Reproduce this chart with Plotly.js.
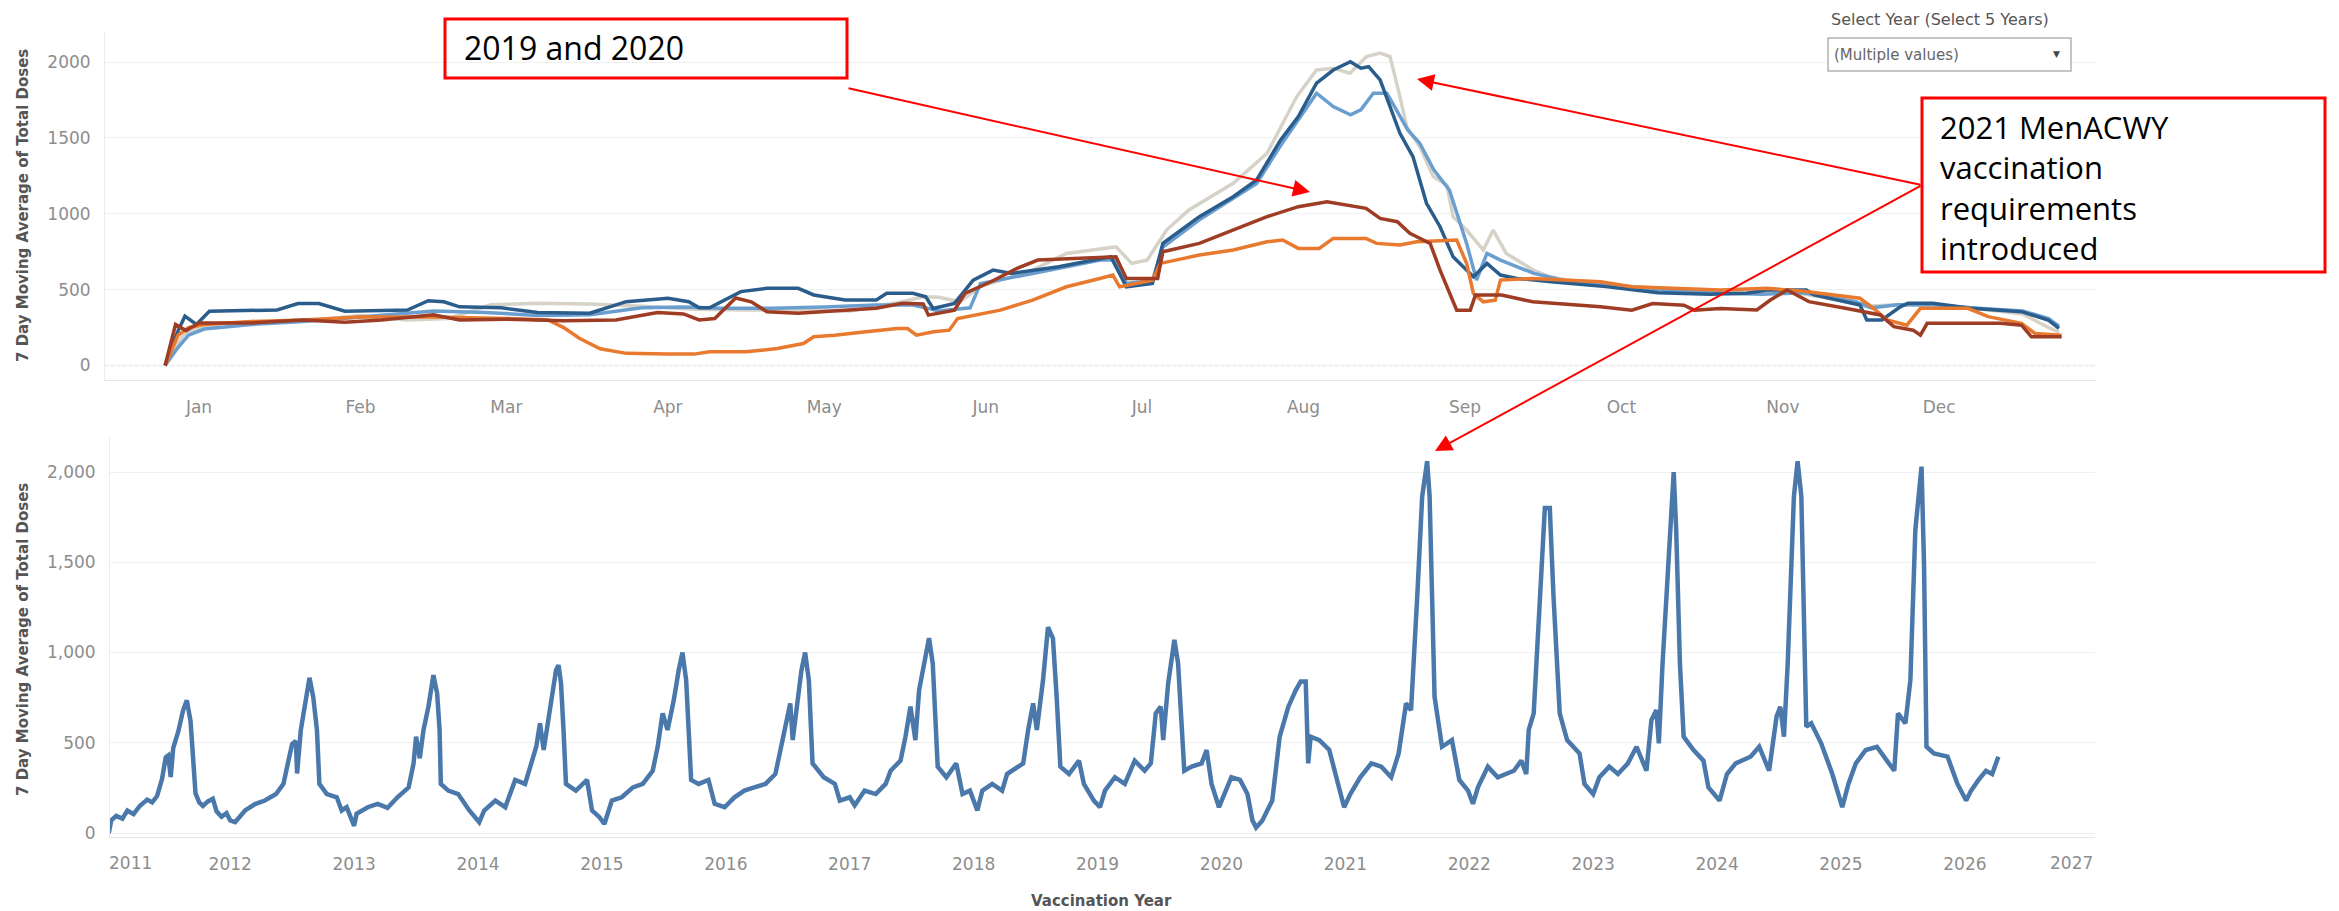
<!DOCTYPE html>
<html>
<head>
<meta charset="utf-8">
<script src="https://cdn.plot.ly/plotly-3.0.1.min.js"></script>
<style>
html,body{margin:0;padding:0;background:#ffffff;}
#chart{width:2339px;height:911px;}
</style>
</head>
<body>
<div id="chart"></div>
<script>
// ---------- DATA ----------
// Top chart: day of year (0 = Jan 1) and 7-day moving average of doses
const monthStarts = [0,31,59,90,120,151,181,212,243,273,304,334];
const monthNames  = ['Jan','Feb','Mar','Apr','May','Jun','Jul','Aug','Sep','Oct','Nov','Dec'];

const day2019 = [-6.5,-4.5,-2.5,0,10,20,28,35,45,50,59,70,80,88,93,96,99,103,106,109,115,124,130,135,139,140,145,147,152,157,161,176,178,184,185,192,198.5,205,211,216.5,224,226.7,230,232.4,236.3,238.2,241.4,244,245,250,256,269,275,279,285,287,292,299,301.6,304.8,306,309,316,322.7,325.3,329,330.4,331.7,345.8,349.8,351.7,357.5];
const val2019 = [0,270,230,280,280,300,285,300,335,300,305,295,300,350,340,300,310,445,420,355,345,366,377,410,405,332,365,475,552,640,695,717,574,574,750,805,893,981,1047,1080,1036,970,948,871,805,629,365,365,464,464,420,387,365,409,398,365,376,366,432,498,476,421,377,333,256,233,200,278,278,266,189,189];

const day2020 = [-6.5,-4,-2,1,10,20,31,45,59,67,70,73,77,82,90,95,98,105,111,116,118,122,128,134,136,137.7,141,144,145.6,153.8,160,166.5,172.9,175.4,176.7,183,184.5,192,198.5,205,208,211,215,217.7,224,226,230.5,233.7,241.4,243.3,244.6,246.5,248.8,249.8,256,269,275,282,292,301,308,318.8,321.4,324,327.8,330.4,339.5,343.4,349.8,352.4,357.5];
const val2020 = [0,200,250,270,290,300,320,320,310,300,250,180,110,80,75,75,90,90,112,145,190,200,222,244,244,200,222,233,310,365,431,519,574,596,519,563,673,728,761,816,827,772,772,838,838,805,794,816,827,673,475,420,431,563,574,552,519,508,497,509,490,443,377,300,266,377,377,322,278,211,200];

const day2021 = [-6.5,-3,0,5,15,25,31,40,48,56,65,75,85,95,105,115,125,135,139,142,146,150,160,166.5,176,179,182,185.7,190,198.5,205,210.7,214.5,217.7,220.9,224.1,226.7,228.6,230.5,231.8,234.3,236.9,239.5,240.7,243.3,246.5,248.4,250.9,256.1,259.3,266,275,285,295,305,315,320,326,333,340,350,355,357];
const val2021 = [0,200,250,280,290,310,330,300,310,400,410,405,390,370,366,366,360,420,453,450,420,520,629,739,783,673,695,893,1025,1201,1399,1773,1948,1960,1927,2037,2059,2037,1773,1575,1443,1246,1190,981,893,761,893,739,629,585,541,520,500,480,490,430,390,400,395,380,340,250,220];

const day2022 = [-6.5,-4,-2,1,10,20,31,45,55,65,75,85,93,100,110,120,130,137,139.5,142,148,150,160,173,176,178,183,185,192,198.5,203,207.6,211,214.5,217.7,221,223,225.4,228,229.9,232,234.3,237,240,243.3,245.2,247.2,249.8,256.2,262,270,280,290,300,308,318,321,326,333,340,350,355,357];
const val2022 = [0,120,200,240,270,290,320,360,350,330,335,380,385,377,377,385,399,399,380,360,380,541,607,695,695,541,560,780,960,1100,1200,1450,1620,1795,1707,1652,1685,1795,1795,1685,1553,1465,1290,1157,805,563,739,695,607,560,530,500,480,470,480,420,380,400,400,380,360,310,260];

const day2023 = [-6.5,-4,-2.7,-0.5,2,15,19,23,28,35,40,44,47,50,58,65,75,82,90,94,96,98,104,109,115,118,124,130,132,137,139.5,140.9,145,148.6,152.4,156,165,175,178,183,185,192,198.5,203,207.6,211,214.5,217.7,221,223,224.5,226.7,228.6,230.5,233,235.6,238.2,240.7,244.6,247.2,249.8,253,260,270,280,290,297,301,308.5,310,318.8,320.1,323,326.6,328,332.8,340,349.8,354.9,357];
const val2023 = [0,230,325,270,358,366,409,409,358,360,366,427,420,387,380,350,345,421,443,420,380,380,487,509,509,465,432,432,476,476,453,376,409,563,629,607,651,717,519,541,805,981,1113,1223,1487,1641,1861,1948,2003,1960,1970,1883,1707,1531,1377,1069,915,717,585,673,596,574,550,520,480,470,476,498,498,465,399,300,300,388,410,410,377,355,300,244];

const topYears  = ['2021','2022','2023','2020','2019'];
const topColors = ['#d6d2c8','#6a9ecf','#2b5d8c','#e8792e','#9e3d24'];

// Bottom chart: decimal year and 7-day moving average of doses
const bottomT = [
 2011.02,2011.04,2011.08,2011.13,2011.17,2011.22,2011.27,2011.33,2011.37,2011.41,2011.45,2011.48,2011.50,2011.52,2011.54,2011.58,2011.62,2011.65,2011.68,2011.70,2011.72,2011.75,2011.78,2011.82,2011.86,2011.89,2011.93,2011.97,
 2012.00,2012.04,2012.12,2012.20,2012.28,2012.37,2012.43,2012.47,2012.50,2012.53,2012.54,2012.57,2012.61,2012.64,2012.67,2012.70,2012.72,2012.78,2012.86,2012.90,2012.94,
 2013.00,2013.02,2013.11,2013.19,2013.27,2013.35,2013.44,2013.48,2013.50,2013.53,2013.56,2013.60,2013.64,2013.67,2013.69,2013.70,2013.76,2013.84,2013.93,
 2014.01,2014.05,2014.14,2014.22,2014.30,2014.38,2014.47,2014.50,2014.53,2014.57,2014.63,2014.65,2014.67,2014.69,2014.71,2014.79,2014.88,2014.92,2014.98,
 2015.02,2015.08,2015.16,2015.25,2015.33,2015.41,2015.45,2015.49,2015.53,2015.58,2015.62,2015.65,2015.68,2015.70,2015.72,2015.78,2015.86,2015.91,2015.99,
 2016.07,2016.15,2016.23,2016.32,2016.40,2016.48,2016.52,2016.54,2016.58,2016.61,2016.64,2016.67,2016.70,2016.79,2016.88,2016.92,
 2017.00,2017.04,2017.12,2017.21,2017.29,2017.33,2017.41,2017.45,2017.49,2017.53,2017.56,2017.60,2017.64,2017.67,2017.69,2017.71,2017.78,2017.86,2017.91,2017.97,
 2018.03,2018.07,2018.15,2018.23,2018.27,2018.40,2018.44,2018.48,2018.51,2018.56,2018.60,2018.64,2018.67,2018.70,2018.77,2018.85,2018.89,2018.97,
 2019.02,2019.06,2019.14,2019.22,2019.30,2019.38,2019.43,2019.47,2019.51,2019.53,2019.57,2019.62,2019.65,2019.68,2019.70,2019.76,2019.84,2019.88,2019.92,2019.98,
 2020.04,2020.08,2020.15,2020.21,2020.25,2020.28,2020.33,2020.41,2020.47,2020.54,2020.60,2020.64,2020.68,2020.70,2020.72,2020.79,2020.87,2020.93,2020.99,
 2021.04,2021.12,2021.21,2021.29,2021.37,2021.43,2021.49,2021.53,2021.58,2021.62,2021.66,2021.68,2021.70,2021.72,2021.78,2021.86,2021.92,2021.99,
 2022.03,2022.07,2022.15,2022.23,2022.36,2022.42,2022.46,2022.48,2022.52,2022.56,2022.61,2022.65,2022.68,2022.73,2022.79,2022.89,2022.93,2023.00,
 2023.05,2023.13,2023.20,2023.28,2023.35,2023.43,2023.47,2023.51,2023.53,2023.56,2023.62,2023.65,2023.67,2023.70,2023.73,2023.81,2023.89,2023.93,
 2024.02,2024.08,2024.15,2024.27,2024.34,2024.42,2024.48,2024.51,2024.54,2024.57,2024.62,2024.65,2024.68,2024.70,2024.72,2024.76,2024.84,2024.93,
 2025.01,2025.06,2025.12,2025.20,2025.29,2025.37,2025.43,2025.46,2025.52,2025.56,2025.60,2025.65,2025.67,2025.69,2025.75,2025.86,2025.94,
 2026.01,2026.05,2026.11,2026.17,2026.22,2026.27
];
const bottomV = [
 0,70,95,80,125,105,150,185,170,205,300,420,430,310,470,560,680,735,620,430,220,170,150,175,190,120,90,110,
 70,60,125,160,180,216,272,401,493,510,330,571,718,860,755,571,272,216,198,125,143,
 40,107,143,162,140,198,253,386,534,414,571,700,875,774,571,272,235,216,125,
 60,125,180,143,294,272,478,608,460,645,903,930,829,571,272,235,294,125,88,
 50,180,198,253,272,345,478,663,571,737,903,1000,847,608,294,272,294,162,143,
 198,235,253,272,327,608,718,515,760,900,1000,847,386,309,272,180,
 198,153,235,216,272,345,401,534,700,515,792,940,1080,940,663,368,309,386,216,235,
 125,235,272,235,327,386,571,718,571,847,1140,1079,755,368,327,401,272,180,
 143,235,309,272,401,345,386,663,700,515,829,1070,940,571,345,368,386,460,272,143,
 235,309,294,216,70,30,70,180,534,700,792,840,840,386,534,515,460,309,143,
 216,309,386,368,309,441,718,681,1309,1864,2060,1864,1309,755,478,515,294,235,
 162,253,368,309,345,401,327,571,663,1124,1800,1800,1309,663,515,441,272,216,
 309,368,327,386,478,345,626,681,497,940,1679,2000,1679,940,534,460,401,253,
 180,327,386,423,478,345,645,700,534,940,1864,2060,1864,1124,589,608,497,327,
 143,272,386,460,478,401,345,663,608,847,1679,2030,1494,478,441,423,272,
 180,235,294,345,327,423
];
const yearTicks  = [2012,2013,2014,2015,2016,2017,2018,2019,2020,2021,2022,2023,2024,2025,2026];
const yearLabels = yearTicks.map(String);
const edgeYearLabels = ['2011','2027'];
const yTicks = [0,500,1000,1500,2000];

// ---------- LAYOUT HELPERS ----------
const W = 2339, H = 911;
const px = x => x / W;
const py = y => 1 - y / H;
const tickFont = {family:'DejaVu Sans', size:17, color:'#8d8d8d'};
const titleFont = {family:'DejaVu Sans', size:15, color:'#555555', weight:'bold'};

const topSeries = {
  '2019':[day2019,val2019], '2020':[day2020,val2020], '2021':[day2021,val2021],
  '2022':[day2022,val2022], '2023':[day2023,val2023]
};

const traces = topYears.map((yr,i) => ({
  type:'scatter', mode:'lines', name:yr,
  x: topSeries[yr][0], y: topSeries[yr][1],
  xaxis:'x', yaxis:'y',
  line:{color: topColors[i], width:3.5},
  hoverinfo:'skip'
}));
traces.push({
  type:'scatter', mode:'lines', name:'All years',
  x: bottomT, y: bottomV, xaxis:'x2', yaxis:'y2',
  line:{color:'#4b78aa', width:4.5}, hoverinfo:'skip'
});

const layout = {
  width:W, height:H, margin:{l:0,r:0,t:0,b:0},
  paper_bgcolor:'#ffffff', plot_bgcolor:'#ffffff', showlegend:false,
  xaxis:{domain:[px(105),px(2096)], range:[-18.04,364.1], anchor:'y',
    tickvals:monthStarts, ticktext:monthNames, showgrid:false, zeroline:false,
    showline:true, linecolor:'#e6e6e6', linewidth:1, ticks:'', tickfont:tickFont,
    ticklabelstandoff:12, fixedrange:true},
  yaxis:{domain:[py(380),py(33)], range:[-95.6,2192], anchor:'x',
    tickvals:yTicks, ticktext:yTicks.map(String), showgrid:true, gridcolor:'#f0f0f0',
    gridwidth:1, zeroline:false, showline:true, linecolor:'#ececec', ticks:'',
    tickfont:tickFont, ticklabelstandoff:10, fixedrange:true},
  xaxis2:{domain:[px(110),px(2095)], range:[2011.03,2027.05], anchor:'y2',
    tickvals:yearTicks, ticktext:yearLabels, showgrid:false, zeroline:false,
    showline:true, linecolor:'#e6e6e6', ticks:'', tickfont:tickFont,
    ticklabelstandoff:12, fixedrange:true},
  yaxis2:{domain:[py(837),py(437)], range:[-22,2194], anchor:'x2',
    tickvals:yTicks, tickformat:',d', showgrid:true, gridcolor:'#f0f0f0',
    zeroline:false, showline:true, linecolor:'#ececec', ticks:'',
    tickfont:tickFont, ticklabelstandoff:10, fixedrange:true},
  shapes:[
    {type:'line', xref:'x domain', yref:'y', x0:0, x1:1, y0:0, y1:0, layer:'below',
     line:{color:'#cdcdcd', width:1.5, dash:'dot'}},
    {type:'rect', xref:'paper', yref:'paper', x0:px(445), x1:px(847), y0:py(78), y1:py(19),
     line:{color:'#ff0000', width:3}, fillcolor:'rgba(0,0,0,0)'},
    {type:'rect', xref:'paper', yref:'paper', x0:px(1922), x1:px(2325), y0:py(272), y1:py(98),
     line:{color:'#ff0000', width:3}, fillcolor:'#ffffff'},
    {type:'rect', xref:'paper', yref:'paper', x0:px(1828), x1:px(2071), y0:py(71), y1:py(38),
     line:{color:'#b3b3b3', width:1.5}, fillcolor:'#ffffff'}
  ],
  annotations:[
    {text:'7 Day Moving Average of Total Doses', xref:'paper', yref:'paper', x:px(23), y:py(206),
     textangle:-90, showarrow:false, font:titleFont, xanchor:'center', yanchor:'middle'},
    {text:'7 Day Moving Average of Total Doses', xref:'paper', yref:'paper', x:px(23), y:py(640),
     textangle:-90, showarrow:false, font:titleFont, xanchor:'center', yanchor:'middle'},
    {text:'Vaccination Year', xref:'paper', yref:'paper', x:px(1101), y:py(891),
     showarrow:false, font:titleFont, xanchor:'center', yanchor:'top', borderpad:0},
    {text:edgeYearLabels[0], xref:'paper', yref:'paper', x:px(130), y:py(863),
     showarrow:false, font:tickFont, xanchor:'center', yanchor:'middle'},
    {text:edgeYearLabels[1], xref:'paper', yref:'paper', x:px(2071), y:py(863),
     showarrow:false, font:tickFont, xanchor:'center', yanchor:'middle'},
    {text:'Select Year (Select 5 Years)', xref:'paper', yref:'paper', x:px(1940), y:py(20),
     showarrow:false, font:{family:'DejaVu Sans', size:16, color:'#555555'}, xanchor:'center', yanchor:'middle'},
    {text:'(Multiple values)', xref:'paper', yref:'paper', x:px(1832), y:py(55),
     showarrow:false, font:{family:'DejaVu Sans', size:15, color:'#666666'}, xanchor:'left', yanchor:'middle'},
    {text:'▼', xref:'paper', yref:'paper', x:px(2056), y:py(54),
     showarrow:false, font:{family:'DejaVu Sans', size:9, color:'#444444'}, xanchor:'center', yanchor:'middle'},
    {text:'2019 and 2020', xref:'paper', yref:'paper', x:px(463), y:py(47),
     showarrow:false, font:{family:'Open Sans', size:32, color:'#000000'}, xanchor:'left', yanchor:'middle', borderpad:0},
    {text:'2021 MenACWY<br>vaccination<br>requirements<br>introduced', xref:'paper', yref:'paper',
     x:px(1939), y:py(187), align:'left',
     showarrow:false, font:{family:'Open Sans', size:31, color:'#000000'}, xanchor:'left', yanchor:'middle', borderpad:0},
    {text:'', xref:'paper', yref:'paper', x:px(1310), y:py(192), ax:847-1310, ay:88-192,
     showarrow:true, arrowhead:2, arrowsize:1.7, arrowwidth:2, arrowcolor:'#ff0000', standoff:0},
    {text:'', xref:'paper', yref:'paper', x:px(1417), y:py(79), ax:1922-1417, ay:185-79,
     showarrow:true, arrowhead:2, arrowsize:1.7, arrowwidth:2, arrowcolor:'#ff0000', standoff:0},
    {text:'', xref:'paper', yref:'paper', x:px(1435), y:py(451), ax:1922-1435, ay:185-451,
     showarrow:true, arrowhead:2, arrowsize:1.7, arrowwidth:2, arrowcolor:'#ff0000', standoff:0}
  ]
};

Plotly.newPlot('chart', traces, layout, {staticPlot:true, displayModeBar:false});
</script>
</body>
</html>
